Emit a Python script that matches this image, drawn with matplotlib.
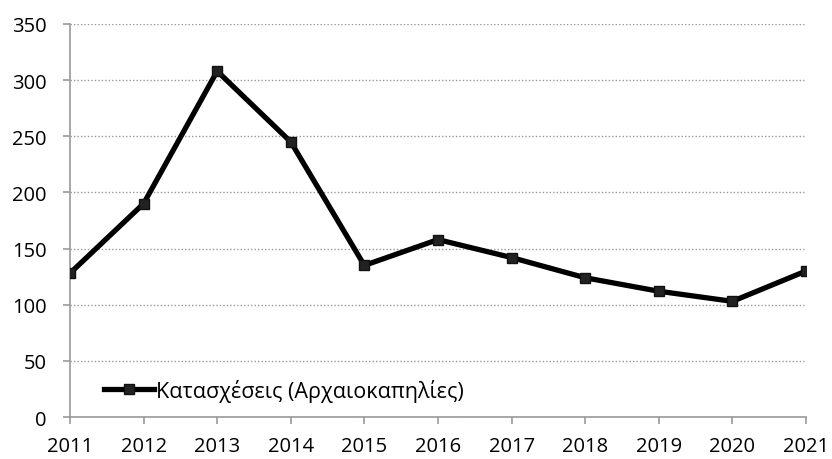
import matplotlib.pyplot as plt

years = [2011, 2012, 2013, 2014, 2015, 2016, 2017, 2018, 2019, 2020, 2021]
values = [128, 190, 308, 245, 135, 158, 142, 124, 112, 103, 130]
label = 'Κατασχέσεις (Αρχαιοκαπηλίες)'

plt.rcParams['font.family'] = ['Open Sans', 'DejaVu Sans']

fig = plt.figure(figsize=(8.32, 4.6), dpi=100)
ax = fig.add_axes([0.0841, 0.0913, 0.8846, 0.8544])

ax.plot(years, values, color='black', lw=3.8, marker='s', ms=7,
        mfc='#222222', mec='#111111', label=label, zorder=3)

ax.set_xlim(years[0], years[-1])
ax.set_ylim(0, 350)
ax.set_xticks(years)
ax.set_yticks(range(0, 351, 50))
ax.yaxis.grid(True, linestyle=(0, (1, 1.5)), color='#999999', lw=1)
ax.set_axisbelow(True)

for side in ['top', 'right']:
    ax.spines[side].set_visible(False)
for side in ['left', 'bottom']:
    ax.spines[side].set_color('#999999')
    ax.spines[side].set_linewidth(1.2)
ax.tick_params(axis='both', colors='#999999', length=5, width=1.2,
               labelsize=14.5, labelcolor='black', direction='out')
ax.tick_params(axis='x', pad=9)
ax.tick_params(axis='y', pad=12)

ax.legend(loc='lower left', bbox_to_anchor=(0.02, -0.01), frameon=False,
          fontsize=15.5, handlelength=2.3, handletextpad=0.1)

fig.savefig('out.png', dpi=100)
